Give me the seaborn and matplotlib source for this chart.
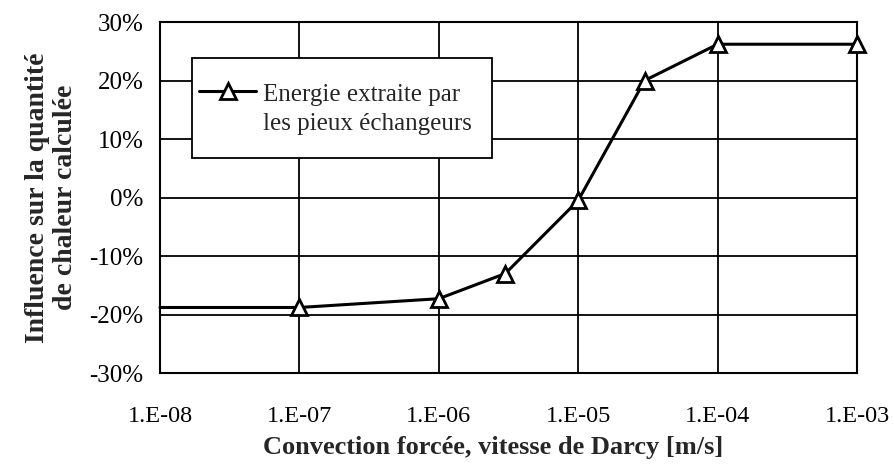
import matplotlib
matplotlib.use("Agg")
import matplotlib.pyplot as plt
import matplotlib.ticker as mticker
from matplotlib.patches import Rectangle
import seaborn as sns
import pandas as pd
import numpy as np

# Data
velocity = [1e-8, 1e-7, 1e-6, 3e-6, 1e-5, 3e-5, 1e-4, 1e-3]
influence = [-18.8, -18.8, -17.3, -13.0, -0.5, 20.0, 26.2, 26.2]
series_label = "Energie extraite par\nles pieux échangeurs"
x_tick_values = [1e-8, 1e-7, 1e-6, 1e-5, 1e-4, 1e-3]
x_tick_labels = ["1.E-08", "1.E-07", "1.E-06", "1.E-05", "1.E-04", "1.E-03"]
y_tick_values = [-30, -20, -10, 0, 10, 20, 30]
y_tick_labels = ["-30%", "-20%", "-10%", "0%", "10%", "20%", "30%"]

sns.set_style("white")
plt.rcParams['font.family'] = ['Liberation Serif', 'DejaVu Serif']

df = pd.DataFrame({"v": velocity, "inf": influence, "s": series_label})

W, H = 895, 465
fig = plt.figure(figsize=(W/100, H/100), dpi=100)
ax = fig.add_axes([160/W, 1-373/H, (857-160)/W, (373-22)/H])

sns.lineplot(data=df, x="v", y="inf", ax=ax, color="black", linewidth=2.2,
             marker="^", markersize=11, markerfacecolor="white",
             markeredgecolor="black", markeredgewidth=2,
             markevery=list(range(1, len(velocity))), label=series_label,
             clip_on=False, zorder=5)

ax.set_xscale("log")
ax.set_xlim(1e-8, 1e-3)
ax.set_ylim(-30, 30)
ax.set_xticks(x_tick_values)
ax.set_xticklabels(x_tick_labels)
ax.xaxis.set_minor_locator(mticker.LogLocator(base=10, subs=np.arange(2, 10)))
ax.xaxis.set_minor_formatter(mticker.NullFormatter())
ax.set_yticks(y_tick_values)
ax.set_yticklabels(y_tick_labels)
ax.yaxis.set_minor_locator(mticker.MultipleLocator(2))

ax.grid(True, which="major", color="black", linewidth=1.3)
ax.tick_params(axis="both", which="major", direction="out", length=6, width=1,
               colors="black")
ax.tick_params(axis="both", which="minor", direction="in", length=4, width=0.8)
ax.tick_params(axis="x", which="major", pad=18, labelsize=17.5)
ax.tick_params(axis="y", which="major", pad=6, labelsize=18)
for sp in ax.spines.values():
    sp.set_color("black")
    sp.set_linewidth(1.5)

ax.set_xlabel("Convection forcée, vitesse de Darcy [m/s]", fontsize=19,
              fontweight="bold", labelpad=4)
ax.xaxis.set_label_coords((493-160)/697, -0.18)
ax.set_ylabel("Influence sur la quantité\nde chaleur calculée", fontsize=20,
              fontweight="bold", labelpad=8, linespacing=1.15)

# legend box
box = Rectangle((192/W, 1-158/H), 300/W, 100/H, transform=fig.transFigure,
                facecolor="white", edgecolor="black", linewidth=1.3,
                zorder=4, clip_on=False)
ax.add_patch(box)
leg = ax.legend(loc="upper left", bbox_to_anchor=(199/W, 1-84/H),
                bbox_transform=fig.transFigure,
                fontsize=18, frameon=False, handlelength=2.3,
                borderpad=0, handletextpad=0.25, borderaxespad=0)
leg.set_zorder(6)
for t in leg.get_texts():
    t.set_linespacing(1.4)
for ln in leg.get_lines():
    yd = np.asarray(ln.get_ydata(), dtype=float)
    ln.set_ydata(yd + 13)

fig.savefig("out.png", dpi=100)
